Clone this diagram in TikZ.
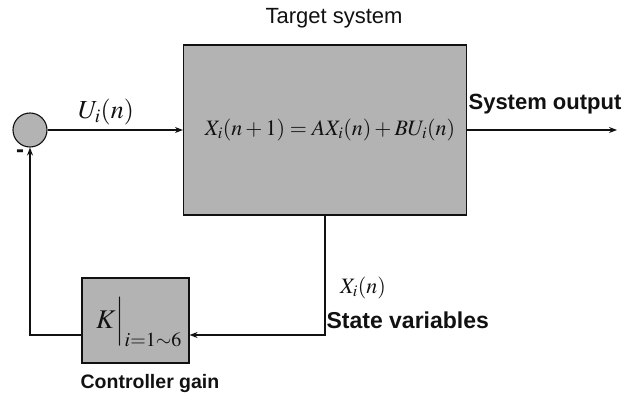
\documentclass[tikz,border=0pt]{standalone}
\usepackage{mathptmx}
\usepackage[no-math]{fontspec}
\setmainfont{Liberation Sans}
\usepackage{xcolor}
\definecolor{shade}{HTML}{B3B3B3}
\definecolor{ink}{HTML}{111111}
\usetikzlibrary{arrows.meta,positioning,calc}

\begin{document}
\begin{tikzpicture}[x=1pt,y=-1pt,line width=1.2pt,draw=ink,
    blk/.style={draw=ink,line width=1.1pt,fill=shade,inner sep=0pt},
    lbl/.style={text=ink,inner sep=0pt,font=\bfseries},
    >={Stealth[length=8pt,width=6pt]}]
  \useasboundingbox (0,0) rectangle (626,395);
  % sum point and blocks
  \node[blk,circle,minimum size=34pt] (sum) at (30,130) {};
  \node[blk,minimum width=283pt,minimum height=170pt] (plant) at (325,130) {};
  \node[blk,minimum width=107pt,minimum height=85pt] (gain) at (135.5,320.5) {};
  % texts
  \node[text=ink,inner sep=0pt,font=\fontsize{22}{26}\selectfont] (title) at (334,18) {Target system};
  \node[text=ink,inner sep=0pt,font=\fontsize{22}{27}\selectfont] (eq) at (330,130) {$X_i(n+1)=AX_i(n)+BU_i(n)$};
  \node[text=ink,inner sep=0pt,font=\fontsize{26}{30}\selectfont] (uin) at (106,112) {$U_i(n)$};
  \node[text=ink,inner sep=0pt,font=\fontsize{27}{31}\selectfont] (kval) at (139,322) {$K\Big|_{i=1\sim 6}$};
  \node[text=ink,inner sep=0pt,font=\fontsize{22}{26}\selectfont] (xst) at (363,288) {$X_i(n)$};
  \node[lbl,anchor=west,font=\fontsize{22}{26}\selectfont\bfseries] (outlbl) at (468,104) {System output};
  \node[lbl,anchor=west,font=\fontsize{23}{27}\selectfont\bfseries] (statelbl) at (326,320) {State variables};
  \node[lbl,font=\fontsize{19.5}{23}\selectfont\bfseries] (gainlbl) at (150,383) {Controller gain};
  \node[lbl,font=\fontsize{24}{28}\selectfont\bfseries] (minus) at (20,154) {-};
  % connectors
  \coordinate (out) at (617,130);
  \coordinate (tap) at (325,335);
  \coordinate (fb) at (30,335);
  \draw[->] (sum.east) -- (plant.west);
  \draw[->] (plant.east) -- (out);
  \draw[->] (plant.south) -- (tap) -- (gain.east |- tap);
  \draw[->] (gain.west |- tap) -- (fb) -- (sum.south);
\end{tikzpicture}
\end{document}
